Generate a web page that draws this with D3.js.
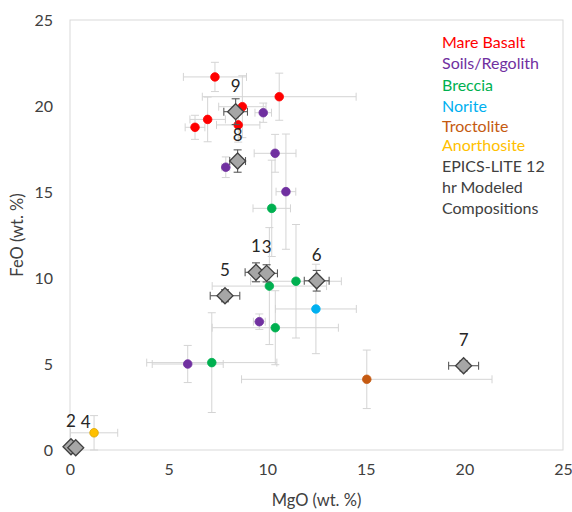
<!DOCTYPE html>
<html>
<head>
<meta charset="utf-8">
<script src="https://cdn.jsdelivr.net/npm/d3@7/dist/d3.min.js"></script>
<style>
  html, body { margin: 0; padding: 0; background: #fff; }
  svg { display: block; }
  text { font-family: Lato, "Open Sans", sans-serif; }
</style>
</head>
<body>
<svg id="chart" width="572" height="512"></svg>
<script>
// ---- Data: each point is [MgO, FeO, MgO error, FeO error] ----
const mareBasalt = [
  [7.35, 21.69, 1.6, 0.85],
  [10.61, 20.54, 3.9, 1.37],
  [8.74, 19.96, 1.2, 1.8],
  [6.98, 19.22, 0.9, 1.3],
  [6.34, 18.76, 0.5, 0.7],
  [8.53, 18.9, 1.1, 1.0]
];
const soilsRegolith = [
  [9.8, 19.61, 0.42, 0.56],
  [10.4, 17.25, 1.06, 1.1],
  [7.9, 16.44, 0.2, 0.6],
  [10.95, 15.02, 0.5, 3.35],
  [9.6, 7.46, 0.3, 0.45],
  [5.97, 5.0, 1.8, 1.08]
];
const breccia = [
  [10.23, 14.05, 0.95, 2.8],
  [11.46, 9.81, 2.3, 3.3],
  [10.11, 9.53, 2.9, 3.4],
  [10.41, 7.11, 3.2, 2.15],
  [7.19, 5.08, 3.3, 2.9]
];
const norite = [[12.47, 8.2, 2.05, 2.6]];
const troctolite = [[15.05, 4.11, 6.35, 1.7]];
const anorthosite = [[1.22, 1.0, 1.2, 1.0]];
// EPICS-LITE 12 hr modeled compositions
const epicsLabels = ["1", "2", "3", "4", "5", "6", "7", "8", "9"];
const epics = [
  [9.43, 10.33, 0.55, 0.55],
  [0.05, 0.19, 0, 0],
  [9.97, 10.27, 0.55, 0.5],
  [0.29, 0.13, 0, 0],
  [7.86, 8.97, 0.75, 0.35],
  [12.51, 9.84, 0.63, 0.6],
  [19.96, 4.9, 0.76, 0.3],
  [8.5, 16.8, 0.4, 0.65],
  [8.4, 19.67, 0.6, 0.75]
];
const seriesNames = ["Mare Basalt", "Soils/Regolith", "Breccia", "Norite", "Troctolite", "Anorthosite"];
const seriesColors = ["#ff0000", "#7030a0", "#00b050", "#00b0f0", "#c55a11", "#ffc000"];
const epicsLegend = ["EPICS-LITE 12", "hr Modeled", "Compositions"];
const xTicks = [0, 5, 10, 15, 20, 25];
const yTicks = [0, 5, 10, 15, 20, 25];

const seriesData = [mareBasalt, soilsRegolith, breccia, norite, troctolite, anorthosite];

// ---- Layout ----
const svg = d3.select("#chart");
const margin = { left: 70, top: 20, right: 9, bottom: 62 };
const W = 572, H = 512;
const x = d3.scaleLinear().domain([0, 25]).range([margin.left, W - margin.right]);
const y = d3.scaleLinear().domain([0, 25]).range([H - margin.bottom, margin.top]);

// Frame
svg.append("rect")
  .attr("x", x(0)).attr("y", y(25))
  .attr("width", x(25) - x(0)).attr("height", y(0) - y(25))
  .attr("fill", "none").attr("stroke", "#d9d9d9").attr("stroke-width", 1);

// Axes
const xAxis = svg.append("g").attr("transform", `translate(0,${y(0)})`)
  .call(d3.axisBottom(x).tickValues(xTicks).tickSize(0).tickPadding(14));
const yAxis = svg.append("g").attr("transform", `translate(${x(0)},0)`)
  .call(d3.axisLeft(y).tickValues(yTicks).tickSize(0).tickPadding(17));
[xAxis, yAxis].forEach(g => {
  g.select(".domain").remove();
  g.selectAll("text").attr("font-size", 16).attr("fill", "#404040")
    .attr("font-family", "Lato, 'Open Sans', sans-serif");
});

svg.append("text").attr("x", (x(0) + x(25)) / 2).attr("y", 506)
  .attr("text-anchor", "middle").attr("font-size", 16.5).attr("fill", "#404040")
  .text("MgO (wt. %)");
svg.append("text")
  .attr("transform", `translate(23,${(y(0) + y(25)) / 2}) rotate(-90)`)
  .attr("text-anchor", "middle").attr("font-size", 16.5).attr("fill", "#404040")
  .text("FeO (wt. %)");

// Error bar helper
function errorBars(g, data, color, cap) {
  data.forEach(d => {
    const [mx, fy, ex, ey] = d;
    if (ex > 0) {
      g.append("line").attr("x1", x(mx - ex)).attr("x2", x(mx + ex))
        .attr("y1", y(fy)).attr("y2", y(fy)).attr("stroke", color);
      [mx - ex, mx + ex].forEach(v => g.append("line")
        .attr("x1", x(v)).attr("x2", x(v))
        .attr("y1", y(fy) - cap).attr("y2", y(fy) + cap).attr("stroke", color));
    }
    if (ey > 0) {
      g.append("line").attr("x1", x(mx)).attr("x2", x(mx))
        .attr("y1", y(fy - ey)).attr("y2", y(fy + ey)).attr("stroke", color);
      [fy - ey, fy + ey].forEach(v => g.append("line")
        .attr("x1", x(mx) - cap).attr("x2", x(mx) + cap)
        .attr("y1", y(v)).attr("y2", y(v)).attr("stroke", color));
    }
  });
}

const errG = svg.append("g").attr("stroke-width", 1);
seriesData.forEach(s => errorBars(errG, s, "#d4d4d4", 4));

// Circles
seriesData.forEach((s, i) => {
  svg.append("g").selectAll("circle").data(s).join("circle")
    .attr("cx", d => x(d[0])).attr("cy", d => y(d[1])).attr("r", 4.3)
    .attr("fill", seriesColors[i])
    .attr("stroke", i === 5 ? "#d9a400" : seriesColors[i]).attr("stroke-width", 0.8);
});

// EPICS error bars and diamonds
const epG = svg.append("g").attr("stroke-width", 1.1);
errorBars(epG, epics, "#595959", 4);
const dsz = 8;
svg.append("g").selectAll("path").data(epics).join("path")
  .attr("d", d => {
    const cx = x(d[0]), cy = y(d[1]);
    return `M${cx},${cy - dsz}L${cx + dsz},${cy}L${cx},${cy + dsz}L${cx - dsz},${cy}Z`;
  })
  .attr("fill", "#a6a6a6").attr("stroke", "#404040").attr("stroke-width", 1.3);

// Data labels
const labelDx = { "4": 10 };
svg.append("g").selectAll("text").data(epics).join("text")
  .attr("x", (d, i) => x(d[0]) + (labelDx[epicsLabels[i]] || 0))
  .attr("y", d => y(d[1]) - 26)
  .attr("dy", "0.35em")
  .attr("text-anchor", "middle").attr("font-size", 17).attr("fill", "#262626")
  .text((d, i) => epicsLabels[i]);

// Legend
const lg = svg.append("g").attr("font-size", 16);
const legendY = [42, 63, 85, 106, 126, 145];
seriesNames.forEach((n, i) => {
  lg.append("text").attr("x", 442).attr("y", legendY[i]).attr("dy", "0.35em")
    .attr("fill", seriesColors[i]).text(n);
});
epicsLegend.forEach((t, i) => {
  lg.append("text").attr("x", 442).attr("y", 166 + i * 21).attr("dy", "0.35em")
    .attr("fill", "#404040").text(t);
});
</script>
</body>
</html>
